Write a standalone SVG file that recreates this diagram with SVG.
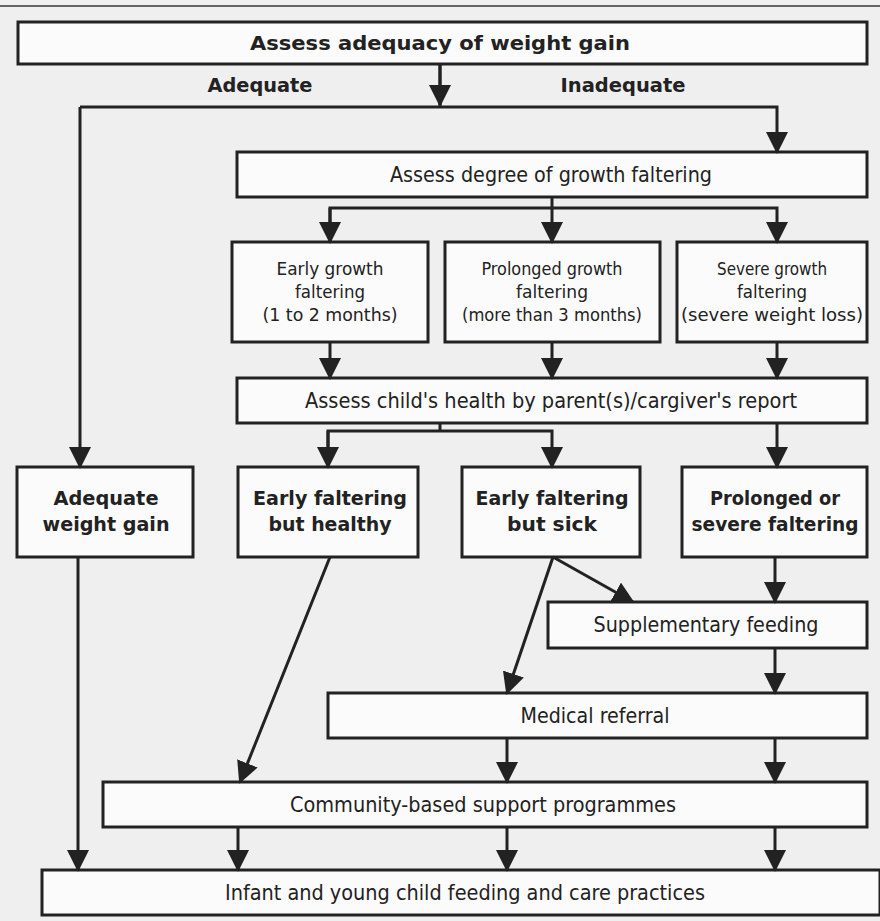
<svg xmlns="http://www.w3.org/2000/svg" width="880" height="921" viewBox="0 0 880 921">
<defs>
<marker id="ah" viewBox="0 0 22 22" refX="20" refY="11" markerWidth="22" markerHeight="22" markerUnits="userSpaceOnUse" orient="auto">
<path d="M0,0 L22,11 L0,22 z" fill="#222"/>
</marker>
</defs>
<style>
.box{fill:#fbfbfb;stroke:#222;stroke-width:3}
.t{font-family:'DejaVu Sans Condensed','DejaVu Sans','Liberation Sans',sans-serif;fill:#222;text-anchor:middle}
.r{font-size:21px}
.s{font-size:18px}
.b{font-size:20px;font-weight:bold}
.c{fill:none;stroke:#222;stroke-width:3}
</style>
<rect x="0" y="0" width="880" height="921" fill="#efefef"/>
<line x1="0" y1="6" x2="880" y2="6" stroke="#666" stroke-width="2"/>

<g id="assess-adequacy">
<rect class="box" x="18" y="22" width="849" height="42"/>
<text class="t b" x="440" y="50" font-size="22" textLength="380" lengthAdjust="spacingAndGlyphs">Assess adequacy of weight gain</text>
</g>
<g id="labels">
<text class="t b" x="260" y="92" textLength="105" lengthAdjust="spacingAndGlyphs">Adequate</text>
<text class="t b" x="623" y="92" textLength="125" lengthAdjust="spacingAndGlyphs">Inadequate</text>
</g>
<g id="assess-degree">
<rect class="box" x="237" y="152" width="630" height="45"/>
<text class="t r" x="551" y="182" textLength="322" lengthAdjust="spacingAndGlyphs">Assess degree of growth faltering</text>
</g>
<g id="early-growth">
<rect class="box" x="232" y="242" width="196" height="100"/>
<text class="t s" x="330" y="275" textLength="107" lengthAdjust="spacingAndGlyphs">Early growth</text>
<text class="t s" x="330" y="298" textLength="70" lengthAdjust="spacingAndGlyphs">faltering</text>
<text class="t s" x="330" y="321" textLength="135" lengthAdjust="spacingAndGlyphs">(1 to 2 months)</text>
</g>
<g id="prolonged-growth">
<rect class="box" x="445" y="242" width="215" height="100"/>
<text class="t s" x="552" y="275" textLength="141" lengthAdjust="spacingAndGlyphs">Prolonged growth</text>
<text class="t s" x="552" y="298" textLength="72" lengthAdjust="spacingAndGlyphs">faltering</text>
<text class="t s" x="552" y="321" textLength="180" lengthAdjust="spacingAndGlyphs">(more than 3 months)</text>
</g>
<g id="severe-growth">
<rect class="box" x="677" y="242" width="190" height="100"/>
<text class="t s" x="772" y="275" textLength="110" lengthAdjust="spacingAndGlyphs">Severe growth</text>
<text class="t s" x="772" y="298" textLength="70" lengthAdjust="spacingAndGlyphs">faltering</text>
<text class="t s" x="772" y="321" textLength="182" lengthAdjust="spacingAndGlyphs">(severe weight loss)</text>
</g>
<g id="assess-health">
<rect class="box" x="237" y="378" width="630" height="45"/>
<text class="t r" x="551" y="408" textLength="492" lengthAdjust="spacingAndGlyphs">Assess child's health by parent(s)/cargiver's report</text>
</g>
<g id="adequate-weight">
<rect class="box" x="17" y="467" width="176" height="90"/>
<text class="t b" x="106" y="505" textLength="105" lengthAdjust="spacingAndGlyphs">Adequate</text>
<text class="t b" x="106" y="531" textLength="127" lengthAdjust="spacingAndGlyphs">weight gain</text>
</g>
<g id="early-healthy">
<rect class="box" x="238" y="467" width="180" height="90"/>
<text class="t b" x="330" y="505" textLength="154" lengthAdjust="spacingAndGlyphs">Early faltering</text>
<text class="t b" x="330" y="531" textLength="123" lengthAdjust="spacingAndGlyphs">but healthy</text>
</g>
<g id="early-sick">
<rect class="box" x="462" y="467" width="178" height="90"/>
<text class="t b" x="552" y="505" textLength="153" lengthAdjust="spacingAndGlyphs">Early faltering</text>
<text class="t b" x="552" y="531" textLength="90" lengthAdjust="spacingAndGlyphs">but sick</text>
</g>
<g id="prolonged-severe">
<rect class="box" x="682" y="467" width="185" height="90"/>
<text class="t b" x="775" y="505" textLength="130" lengthAdjust="spacingAndGlyphs">Prolonged or</text>
<text class="t b" x="775" y="531" textLength="167" lengthAdjust="spacingAndGlyphs">severe faltering</text>
</g>
<g id="supplementary">
<rect class="box" x="548" y="602" width="319" height="46"/>
<text class="t r" x="706" y="632" textLength="225" lengthAdjust="spacingAndGlyphs">Supplementary feeding</text>
</g>
<g id="medical">
<rect class="box" x="328" y="693" width="539" height="45"/>
<text class="t r" x="595" y="723" textLength="149" lengthAdjust="spacingAndGlyphs">Medical referral</text>
</g>
<g id="community">
<rect class="box" x="103" y="782" width="764" height="45"/>
<text class="t r" x="483" y="812" textLength="386" lengthAdjust="spacingAndGlyphs">Community-based support programmes</text>
</g>
<g id="infant">
<rect class="box" x="42" y="870" width="838" height="45"/>
<text class="t r" x="465" y="900" textLength="480" lengthAdjust="spacingAndGlyphs">Infant and young child feeding and care practices</text>
</g>

<g id="connectors">
<line class="c" x1="440" y1="64" x2="440" y2="107"/>
<polyline class="c" points="80,107 777,107 777,152" marker-end="url(#ah)"/>
<line class="c" x1="80" y1="107" x2="80" y2="467" marker-end="url(#ah)"/>
<line class="c" x1="440" y1="64" x2="440" y2="105" marker-end="url(#ah)"/>
<line class="c" x1="552" y1="197" x2="552" y2="208"/>
<polyline class="c" points="330,242 330,208 777,208 777,242" marker-end="url(#ah)"/>
<line class="c" x1="330" y1="208" x2="330" y2="242" marker-end="url(#ah)"/>
<line class="c" x1="552" y1="208" x2="552" y2="242" marker-end="url(#ah)"/>
<line class="c" x1="330" y1="342" x2="330" y2="378" marker-end="url(#ah)"/>
<line class="c" x1="552" y1="342" x2="552" y2="378" marker-end="url(#ah)"/>
<line class="c" x1="777" y1="342" x2="777" y2="378" marker-end="url(#ah)"/>
<line class="c" x1="440" y1="423" x2="440" y2="431"/>
<polyline class="c" points="328,467 328,431 552,431 552,467" marker-end="url(#ah)"/>
<line class="c" x1="328" y1="431" x2="328" y2="467" marker-end="url(#ah)"/>
<line class="c" x1="777" y1="423" x2="777" y2="467" marker-end="url(#ah)"/>
<line class="c" x1="553" y1="557" x2="633" y2="602" marker-end="url(#ah)"/>
<line class="c" x1="553" y1="557" x2="507" y2="693" marker-end="url(#ah)"/>
<line class="c" x1="775" y1="557" x2="775" y2="602" marker-end="url(#ah)"/>
<line class="c" x1="775" y1="648" x2="775" y2="693" marker-end="url(#ah)"/>
<line class="c" x1="330" y1="557" x2="240" y2="782" marker-end="url(#ah)"/>
<line class="c" x1="507" y1="738" x2="507" y2="782" marker-end="url(#ah)"/>
<line class="c" x1="775" y1="738" x2="775" y2="782" marker-end="url(#ah)"/>
<line class="c" x1="78" y1="557" x2="78" y2="870" marker-end="url(#ah)"/>
<line class="c" x1="238" y1="827" x2="238" y2="870" marker-end="url(#ah)"/>
<line class="c" x1="507" y1="827" x2="507" y2="870" marker-end="url(#ah)"/>
<line class="c" x1="775" y1="827" x2="775" y2="870" marker-end="url(#ah)"/>
</g>
</svg>
